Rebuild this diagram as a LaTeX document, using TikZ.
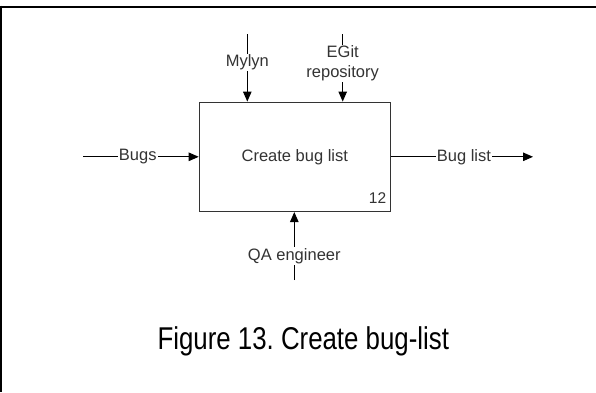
\documentclass[tikz,border=0pt]{standalone}
\usepackage{fontspec}
\setmainfont{Liberation Sans}
\newfontfamily\narrowfont[FakeStretch=0.82]{Liberation Sans}
\usetikzlibrary{arrows.meta}
\definecolor{ink}{HTML}{333333}
\frenchspacing
\begin{document}
\begin{tikzpicture}[x=1pt,y=-1pt,
  flow/.style={draw=black, line width=1pt, -{Triangle[length=10pt,width=8.5pt]}},
  lbl/.style={fill=white, text=ink, font=\fontsize{16.5}{20}\selectfont, inner sep=1pt, align=center},
  procbox/.style={draw=ink, line width=1.2pt, fill=white, minimum width=191pt, minimum height=109.3pt, inner sep=0pt}
]
\useasboundingbox (0,0) rectangle (596,392);
% page frame (top and left rules)
\draw[line width=2pt] (0,6.5) -- (596,6.5);
\draw[line width=2pt] (0.5,5.5) -- (0.5,392);

% activity box
\node[procbox] (proc) at (294.8,156.8) {};
\node[text=ink, font=\fontsize{16.5}{20}\selectfont] (ptitle) at (proc.center) {Create bug list};
\node[text=ink, font=\fontsize{15.5}{18}\selectfont] (pnum) at (377.5,198.3) {12};

% free ends of the arrows
\coordinate (bugsin) at (83,156.8);
\coordinate (listout) at (533,156.8);
\coordinate (mylynin) at (247.3,34);
\coordinate (egitin) at (342.7,34);
\coordinate (qain) at (294.3,280);

% input, output, controls and mechanism
\draw[flow] (bugsin) -- (proc.west) node[lbl, pos=0.473] (lbugs) {Bugs};
\draw[flow] (proc.east) -- (listout) node[lbl, pos=0.514] (llist) {Bug list};
\draw[flow] (mylynin) -- (mylynin |- proc.north) node[lbl, pos=0.418] (lmylyn) {Mylyn};
\draw[flow] (egitin) -- (egitin |- proc.north) node[lbl, pos=0.433] (legit) {EGit\\repository};
\draw[flow] (qain) -- (qain |- proc.south) node[lbl, pos=0.352] (lqa) {QA engineer};

% caption
\node[anchor=base, font=\narrowfont\fontsize{31.5}{36}\selectfont] (caption) at (303.3,349) {Figure 13. Create bug-list};
\end{tikzpicture}
\end{document}
